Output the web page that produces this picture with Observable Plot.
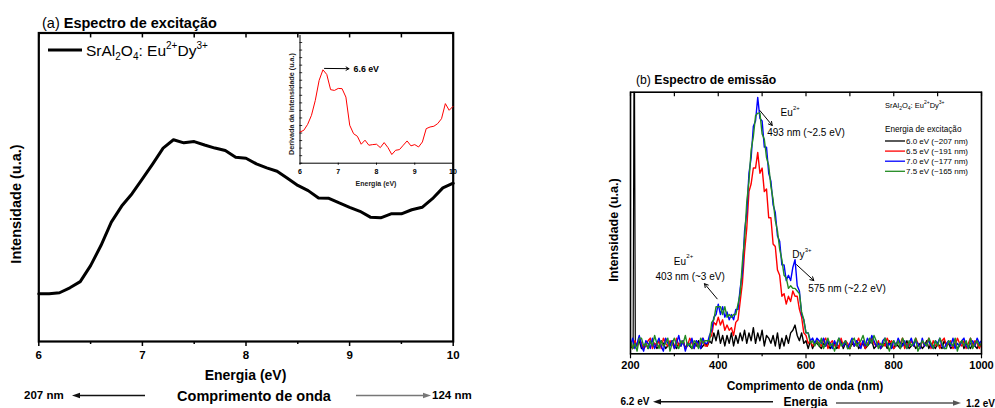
<!DOCTYPE html>
<html><head><meta charset="utf-8">
<script src="https://cdn.jsdelivr.net/npm/d3@7"></script>
<script src="https://cdn.jsdelivr.net/npm/@observablehq/plot@0.6"></script>
<style>
html,body{margin:0;padding:0;background:#fff;}
#root{position:relative;width:995px;height:408px;overflow:hidden;font-family:"Liberation Sans",Arial,sans-serif;}
#root svg{position:absolute;overflow:visible;max-width:none;}
</style></head><body><div id="root"></div>
<script>
// ---------- Panel (a): excitation spectrum ----------
const excEnergy = [6.0,6.1,6.2,6.3,6.4,6.5,6.6,6.7,6.8,6.9,7.0,7.1,7.2,7.3,7.4,7.5,7.6,7.7,7.8,7.9,8.0,8.1,8.2,8.3,8.4,8.5,8.6,8.7,8.8,8.9,9.0,9.1,9.2,9.3,9.4,9.5,9.6,9.7,9.8,9.9,10.0];
const excIntensity = [15.5,15.5,15.8,17.4,19.4,24.6,31.1,38.7,43.9,47.9,52.7,57.6,62.7,65.4,64.4,64.8,63.7,62.7,61.9,59.7,59.4,57.6,56.3,55.2,52.9,50.6,48.9,46.5,46.4,44.9,43.5,42.2,40.3,40.1,41.4,41.4,42.7,43.5,46.3,49.8,51.3];
const derivIntensity = [24.8,26.2,30.9,38.1,50,65.9,74.3,70.6,58.5,57.9,59.5,59.3,52.6,30.2,23.5,21.4,15.1,18.3,14.3,14.8,15.1,12.4,16.4,12.4,6.9,10.3,10.8,14.3,17.7,13.8,14.8,12.9,16.9,27.5,28.8,29.4,31.5,35.4,47.4,42.1,45.2];
const excTicksMajor = [6,7,8,9,10];
const excTicksMinor = [6.5,7.5,8.5,9.5];

// ---------- Panel (b): emission spectra (u.a.), 5 nm steps ----------
// segment starts: 200 nm (base1), 375 nm (band), 625 nm (base2)
const blackBase1 = [3,2,4,3,5,2,3,4,2,5,3,4,2,3,5,4,2,3,4,5,3,2,4,3,5,2,4,3,2,4,3,5,2,3,4];
const redBase1   = [4,2,5,3,6,4,2,3,5,6,2,4,3,5,2,6,4,3,5,4,2,6,3,4,5,2,3,6,4,2,5,3,4,6,3];
const blueBase1  = [3,6,2,4,7,3,1,5,4,2,6,2,4,6,3,1,6,4,3,5,2,4,7,3,5,1,4,3,6,2,5,4,2,6,4];
const greenBase1 = [5,2,4,1,6,6,3,4,2,5,3,7,4,2,5,3,4,6,1,4,6,3,2,5,4,7,3,4,2,5,4,2,6,4,5];

const blackBand = [3,5,4,8,5,9,4,7,3,7,4,8,3,7,4,8,5,9,4,8,5,10,4,8,5,9,3,7,6,4,7,3,8,2,6,3,7,4,8,9,11,7,5,8,4,5,2,5,2,4];
const redBand   = [3,6,7,12,11,14,11,13,9,11,9,10,7,12,13,20,27,39,48,62,65,71,71,77,69,71,62,63,52,52,42,41,32,30,22,23,19,22,20,24,22,22,17,14,8,7,4,5,3,4];
const blueBand  = [4,7,9,14,15,19,15,18,14,16,13,15,13,17,17,25,31,47,54,69,75,87,89,98,90,89,79,79,69,66,57,54,45,43,34,34,28,30,28,33,36,26,24,15,13,8,8,5,6,4];
const greenBand = [5,5,12,13,18,18,18,15,18,14,15,14,15,15,19,23,35,44,58,66,78,83,91,92,92,84,82,75,72,64,59,51,47,40,36,30,29,25,26,25,25,24,23,16,13,8,8,4,5,3];

const blackBase2 = [4,3,2,4,3,5,2,3,4,2,3,5,2,4,3,2,4,3,5,2,3,4,2,3,4,5,2,3,4,2,3,4,2,5,3,2,4,3,2,4,3,5,2,3,4,2,3,4,2,3,5,2,4,3,2,4,3,2,5,3,4,2,3,4,2,3,5,2,4,3,2,4,3,2,4,3];
const redBase2   = [5,4,3,5,6,2,4,5,3,4,2,6,3,5,4,2,5,3,4,6,3,5,2,4,5,6,4,3,5,2,4,3,6,4,5,2,3,5,4,6,2,4,3,5,3,6,4,2,5,3,4,6,2,5,3,4,2,5,6,3,4,5,2,3,6,4,3,5,2,4,6,3,5,4,2,4];
const blueBase2  = [6,5,4,6,3,5,4,2,5,3,6,4,3,5,2,4,6,3,5,4,2,5,3,6,4,7,5,3,4,2,5,6,3,4,2,5,3,6,4,3,5,2,4,6,3,5,4,2,6,3,4,5,3,2,5,4,6,3,2,4,5,3,6,2,4,3,5,6,3,2,4,5,3,6,4,5];
const greenBase2 = [5,3,6,2,4,6,3,4,1,4,6,3,4,5,2,2,5,6,3,4,5,7,4,3,6,4,7,5,2,4,3,6,4,1,4,5,3,5,2,6,4,2,5,3,4,6,1,3,5,4,3,6,4,2,5,3,6,4,2,2,5,4,3,6,1,4,5,3,5,2,6,2,4,5,3,4];

// excitation light scatter line of the 6.0 eV curve
const spikeNm = [206,208,209,211];
const spikeVal = [3,110,110,3];

const seriesNames = ["6.0 eV (~207 nm)","6.5 eV (~191 nm)","7.0 eV (~177 nm)","7.5 eV (~165 nm)"];
const seriesColors = ["#000000","#ff0000","#0000ff","#228b22"];
const emTicksMajor = [200,400,600,800,1000];
const emTicksMinor = [300,500,700,900];

// annotations (data coordinates)
const annoNm    = [541.9, 511.6, 298.7, 257, 568.5, 605];
const annoVal   = [92.0, 84.3, 35.3, 29.3, 37.8, 25.0];
const annoText  = ["Eu","493 nm (~2.5 eV)","Eu","403 nm (~3 eV)","Dy","575 nm (~2.2 eV)"];
const annoSup   = ["2+","","2+","","3+",""];
const arrowFromNm = [494.8, 397.6, 578.3];
const arrowFromV  = [93.0, 21.0, 34.1];
const arrowToNm   = [523.0, 368.7, 617.8];
const arrowToV    = [87.3, 26.8, 28.0];

// ---------- build ----------
const FONT = '"Liberation Sans", Arial, sans-serif';
const root = document.getElementById("root");
function place(el, left, top){ el.style.left = left+"px"; el.style.top = top+"px"; root.appendChild(el); }
const plain = d => String(d);

// Panel (a) main
const excData = excEnergy.map((e,i)=>({e, v: excIntensity[i]}));
const allA = excTicksMajor.concat(excTicksMinor);
const plotA = Plot.plot({
  width: 470, height: 370,
  marginLeft: 38.3, marginRight: 17.3, marginTop: 32.5, marginBottom: 29,
  x: {domain: [6,10], label: null},
  y: {domain: [0,100], axis: null},
  style: {fontFamily: FONT, background: "transparent", color: "#000"},
  marks: [
    Plot.line(excData, {x: "e", y: "v", stroke: "#000", strokeWidth: 3}),
    Plot.ruleX(allA, {y1: 100, y2: 98.4, stroke: "#000", strokeWidth: 1.5}),
    Plot.axisX({ticks: excTicksMajor, tickFormat: plain, tickSize: 5, tickPadding: 4, fontSize: 11.5, fontWeight: "bold", label: null, strokeWidth: 1.5}),
    Plot.axisX({ticks: excTicksMinor, tickSize: 3, tickFormat: () => "", label: null, strokeWidth: 1.5}),
    Plot.frame({stroke: "#000", strokeWidth: 2.2})
  ]
});
place(plotA, 0, 0);

// Inset
const derivData = excEnergy.map((e,i)=>({e, v: derivIntensity[i]}));
const plotInset = Plot.plot({
  width: 190, height: 175,
  marginLeft: 29.5, marginRight: 7.5, marginTop: 17, marginBottom: 32.3,
  x: {domain: [6,10], label: null},
  y: {domain: [0,100], axis: null},
  style: {fontFamily: FONT, background: "transparent", color: "#000"},
  marks: [
    Plot.ruleY(d3.range(0, 101, 6), {x1: 6, x2: 6.07, stroke: "#000", strokeWidth: 0.8}),
    Plot.ruleX([6], {y1: 0, y2: 101.6, stroke: "#000", strokeWidth: 1}),
    Plot.ruleY([0], {stroke: "#000", strokeWidth: 1}),
    Plot.axisX({ticks: excTicksMajor, tickFormat: plain, tickSize: 2, tickPadding: 3.8, fontSize: 7, fontWeight: "bold", label: null}),
    Plot.line(derivData, {x: "e", y: "v", stroke: "#ff0000", strokeWidth: 1}),
    Plot.arrow([{x1: 6.64, y1: 75.4, x2: 7.28, y2: 75.2}], {x1: "x1", y1: "y1", x2: "x2", y2: "y2", stroke: "#000", strokeWidth: 1, headLength: 5}),
    Plot.text([{x: 7.40, y: 74.8, t: "6.6 eV"}], {x: "x", y: "y", text: "t", textAnchor: "start", fontSize: 8.8, fontWeight: "bold", fill: "#000"})
  ]
});
place(plotInset, 270, 20);

// Panel (b)
function seg(start, vals, s){ return vals.map((v,i)=>({nm: start + 5*i, v, s})); }
const bases1 = [blackBase1, redBase1, blueBase1, greenBase1];
const bands = [blackBand, redBand, blueBand, greenBand];
const bases2 = [blackBase2, redBase2, blueBase2, greenBase2];
const emSeries = seriesNames.map((n,k)=>[...seg(200, bases1[k], n), ...seg(375, bands[k], n), ...seg(625, bases2[k], n)]);
const spikeData = spikeNm.map((nm,i)=>({nm, v: spikeVal[i]}));
const annos = annoText.map((t,i)=>({nm: annoNm[i], v: annoVal[i], t, sup: annoSup[i]}));
const arrowsB = arrowFromNm.map((x1,i)=>({x1, y1: arrowFromV[i], x2: arrowToNm[i], y2: arrowToV[i]}));
const allB = emTicksMajor.concat(emTicksMinor);

const plotB = Plot.plot({
  width: 395, height: 320,
  marginLeft: 30, marginRight: 14, marginTop: 31.7, marginBottom: 26.7,
  x: {domain: [200,1000], label: null},
  y: {domain: [0,100], axis: null},
  style: {fontFamily: FONT, background: "transparent", color: "#000"},
  marks: [
    Plot.line(spikeData, {x: "nm", y: "v", stroke: "#000", strokeWidth: 1.2, clip: true}),
    ...emSeries.map((d,k)=>Plot.line(d, {x: "nm", y: "v", stroke: seriesColors[k], strokeWidth: 1.4, clip: true})),
    Plot.arrow(arrowsB, {x1: "x1", y1: "y1", x2: "x2", y2: "y2", stroke: "#000", strokeWidth: 1, headLength: 6}),
    Plot.text(annos, {x: "nm", y: "v", text: "t", textAnchor: "start", fontSize: 10, fill: "#000"}),
    Plot.text(annos.filter(d=>d.sup), {x: "nm", y: "v", text: "sup", textAnchor: "start", fontSize: 6, dx: 12.5, dy: -5, fill: "#000"}),
    Plot.ruleX(allB, {y1: 100, y2: 98.3, stroke: "#000", strokeWidth: 1.2}),
    Plot.axisX({ticks: emTicksMajor, tickFormat: plain, tickSize: 5, tickPadding: 2, fontSize: 11, fontWeight: "bold", label: null, strokeWidth: 1.2}),
    Plot.axisX({ticks: emTicksMinor, tickSize: 3, tickFormat: () => "", label: null, strokeWidth: 1.2}),
    Plot.frame({stroke: "#000", strokeWidth: 1.6})
  ]
});
place(plotB, 600, 60);

// ---------- overlay texts, legends ----------
const ov = d3.create("svg").attr("width", 995).attr("height", 408)
  .attr("font-family", FONT).style("left","0px").style("top","0px");

function arrowH(x1, x2, y, color){
  const g = ov.append("g").attr("stroke", color).attr("fill", color);
  const dir = Math.sign(x2 - x1);
  g.append("line").attr("x1", x1).attr("y1", y).attr("x2", x2 - dir*6).attr("y2", y).attr("stroke-width", 1.4);
  g.append("path").attr("d", `M${x2},${y} L${x2 - dir*8},${y-2.8} L${x2 - dir*8},${y+2.8} Z`).attr("stroke", "none");
}

// Panel a texts
let t = ov.append("text").attr("x", 42).attr("y", 27.5).attr("font-size", 14.5);
t.append("tspan").text("(a) ");
t.append("tspan").attr("font-weight", "bold").text("Espectro de excitação");

ov.append("line").attr("x1", 48).attr("x2", 82).attr("y1", 50).attr("y2", 50).attr("stroke", "#000").attr("stroke-width", 3);
t = ov.append("text").attr("x", 86).attr("y", 55.5).attr("font-size", 15.5);
t.append("tspan").text("SrAl");
t.append("tspan").attr("font-size", 10).attr("dy", 4).text("2");
t.append("tspan").attr("dy", -4).text("O");
t.append("tspan").attr("font-size", 10).attr("dy", 4).text("4");
t.append("tspan").attr("dy", -4).text(": Eu");
t.append("tspan").attr("font-size", 10).attr("dy", -7).text("2+");
t.append("tspan").attr("dy", 7).text("Dy");
t.append("tspan").attr("font-size", 10).attr("dy", -7).text("3+");

ov.append("text").attr("transform", "translate(21,204) rotate(-90)").attr("text-anchor", "middle")
  .attr("font-size", 14.5).attr("font-weight", "bold").text("Intensidade (u.a.)");
ov.append("text").attr("x", 245.5).attr("y", 379.5).attr("text-anchor", "middle")
  .attr("font-size", 14).attr("font-weight", "bold").text("Energia (eV)");
ov.append("text").attr("x", 254).attr("y", 400.5).attr("text-anchor", "middle")
  .attr("font-size", 14.5).attr("font-weight", "bold").text("Comprimento de onda");
ov.append("text").attr("x", 24).attr("y", 399).attr("font-size", 11.5).attr("font-weight", "bold").text("207 nm");
ov.append("text").attr("x", 432).attr("y", 399).attr("font-size", 11.5).attr("font-weight", "bold").text("124 nm");
arrowH(145, 72, 395.5, "#111");
arrowH(356, 431, 395.5, "#777");

// Inset labels
ov.append("text").attr("x", 376).attr("y", 186).attr("text-anchor", "middle")
  .attr("font-size", 7).attr("font-weight", "bold").attr("fill", "#222").text("Energia (eV)");
ov.append("text").attr("transform", "translate(293.5,104) rotate(-90)").attr("text-anchor", "middle")
  .attr("font-size", 7.2).attr("font-weight", "bold").attr("fill", "#222").text("Derivada da intensidade (u.a.)");

// Panel b texts
t = ov.append("text").attr("x", 636).attr("y", 83.5).attr("font-size", 12.2);
t.append("tspan").text("(b) ");
t.append("tspan").attr("font-weight", "bold").text("Espectro de emissão");

ov.append("text").attr("transform", "translate(618,230) rotate(-90)").attr("text-anchor", "middle")
  .attr("font-size", 12.6).attr("font-weight", "bold").text("Intensidade (u.a.)");
ov.append("text").attr("x", 805).attr("y", 389.5).attr("text-anchor", "middle")
  .attr("font-size", 12).attr("font-weight", "bold").text("Comprimento de onda (nm)");
ov.append("text").attr("x", 805.5).attr("y", 406).attr("text-anchor", "middle")
  .attr("font-size", 12).attr("font-weight", "bold").text("Energia");
ov.append("text").attr("x", 620.5).attr("y", 405).attr("font-size", 10).attr("font-weight", "bold").text("6.2 eV");
ov.append("text").attr("x", 966).attr("y", 406.5).attr("font-size", 10).attr("font-weight", "bold").text("1.2 eV");
arrowH(773, 653, 401.7, "#111");
arrowH(836, 961, 403, "#555");

// Panel b legend
t = ov.append("text").attr("x", 885).attr("y", 107.5).attr("font-size", 7.5);
t.append("tspan").text("SrAl");
t.append("tspan").attr("font-size", 5).attr("dy", 2.5).text("2");
t.append("tspan").attr("dy", -2.5).text("O");
t.append("tspan").attr("font-size", 5).attr("dy", 2.5).text("4");
t.append("tspan").attr("dy", -2.5).text(": Eu");
t.append("tspan").attr("font-size", 5).attr("dy", -3.5).text("2+");
t.append("tspan").attr("dy", 3.5).text("Dy");
t.append("tspan").attr("font-size", 5).attr("dy", -3.5).text("3+");
ov.append("text").attr("x", 885).attr("y", 132).attr("font-size", 8.2).text("Energia de excitação");
seriesNames.forEach((n,k)=>{
  const y = 141 + k*10.1;
  ov.append("line").attr("x1", 885).attr("x2", 905).attr("y1", y).attr("y2", y).attr("stroke", seriesColors[k]).attr("stroke-width", 1.3);
  ov.append("text").attr("x", 906).attr("y", y + 3).attr("font-size", 8).text(n);
});

place(ov.node(), 0, 0);
</script>
</body></html>
